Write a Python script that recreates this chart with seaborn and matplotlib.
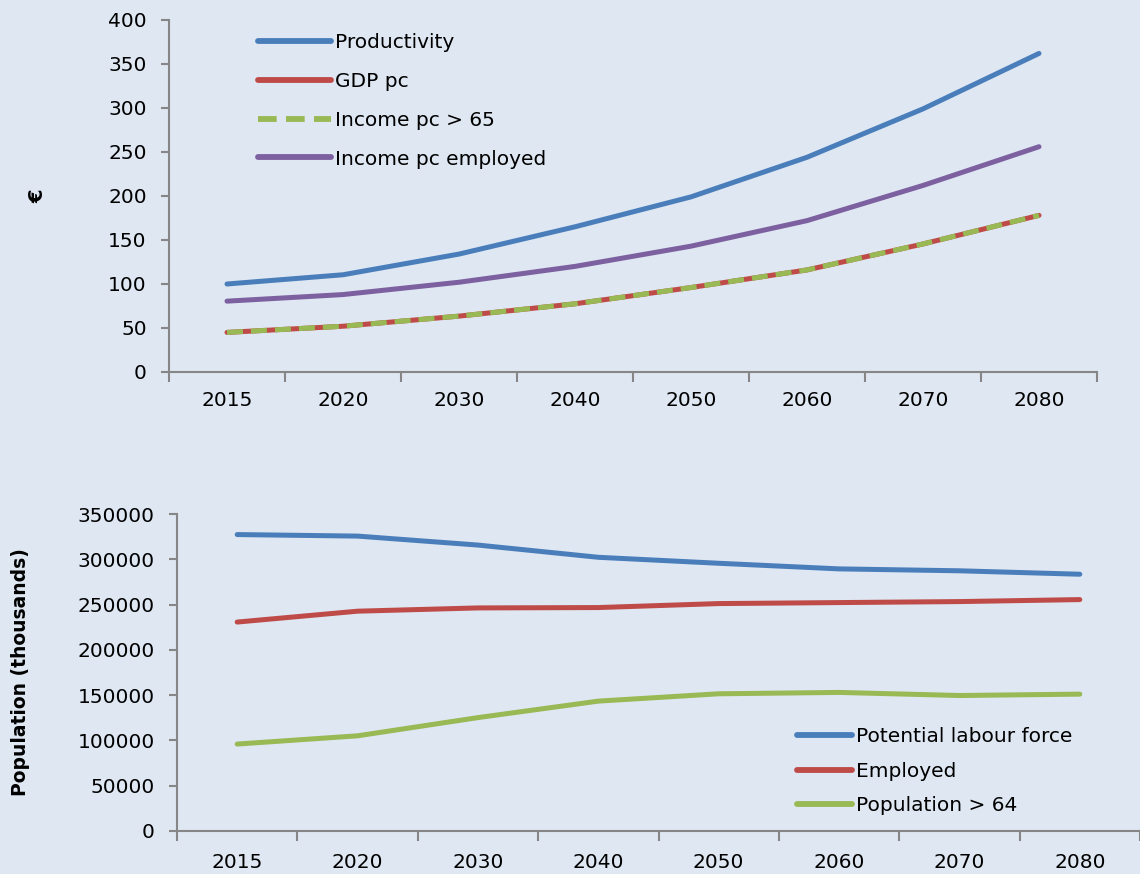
import matplotlib
matplotlib.use('Agg')
import matplotlib.pyplot as plt
import seaborn as sns
import pandas as pd
from matplotlib.ticker import FixedLocator

years = ['2015', '2020', '2030', '2040', '2050', '2060', '2070', '2080']

# Top panel (EUR)
productivity = [100, 110.5, 134, 165, 199, 244, 299, 362]
gdp_pc = [45, 52, 63.5, 77.5, 96, 116, 145.5, 178]
income_pc_65 = [45, 52, 63.5, 77.5, 96, 116, 145.5, 178]
income_pc_employed = [80.5, 88, 102, 120, 143, 172, 212, 256]

# Bottom panel (thousands)
labour_force = [327300, 325600, 315700, 302200, 295600, 289400, 287300, 283500]
employed = [230700, 242700, 246300, 246700, 251100, 252200, 253300, 255500]
population_64 = [96000, 105100, 125200, 143400, 151500, 153000, 149600, 151100]

BG = '#DEE7F2'
AXC = '#868686'
BLUE = '#4A7EBB'
RED = '#BE4B48'
GREEN = '#98B954'
PURPLE = '#7D60A0'

sns.set_theme(style='white', rc={
    'axes.facecolor': BG,
    'figure.facecolor': BG,
    'axes.edgecolor': AXC,
    'axes.linewidth': 1.5,
    'text.color': 'black',
    'axes.labelcolor': 'black',
    'xtick.color': 'black',
    'ytick.color': 'black',
})
plt.rcParams['font.family'] = ['DejaVu Sans']
plt.rcParams['lines.solid_capstyle'] = 'round'

fig = plt.figure(figsize=(11.4, 8.74), dpi=100, facecolor=BG)
W, H = 1140, 874
ax1 = fig.add_axes([169 / W, 1 - 372 / H, (1097 - 169) / W, (372 - 20) / H])
ax2 = fig.add_axes([177 / W, 1 - 831 / H, (1140 - 177) / W, (831 - 514) / H])

top = pd.DataFrame({'year': years, 'Productivity': productivity, 'GDP pc': gdp_pc,
                    'Income pc > 65': income_pc_65, 'Income pc employed': income_pc_employed})
bot = pd.DataFrame({'year': years, 'Potential labour force': labour_force,
                    'Employed': employed, 'Population > 64': population_64})

lw = 3.6
sns.lineplot(data=top, x='year', y='Productivity', color=BLUE, lw=lw, label='Productivity', ax=ax1)
sns.lineplot(data=top, x='year', y='GDP pc', color=RED, lw=lw, label='GDP pc', ax=ax1)
sns.lineplot(data=top, x='year', y='Income pc > 65', color=GREEN, lw=lw, label='Income pc > 65',
             ax=ax1, dashes=False)
ax1.lines[-1].set_dashes((3.2, 1.6))
ax1.lines[-1].set_dash_capstyle('butt')
sns.lineplot(data=top, x='year', y='Income pc employed', color=PURPLE, lw=lw, label='Income pc employed', ax=ax1)

sns.lineplot(data=bot, x='year', y='Potential labour force', color=BLUE, lw=lw, label='Potential labour force', ax=ax2)
sns.lineplot(data=bot, x='year', y='Employed', color=RED, lw=lw, label='Employed', ax=ax2)
sns.lineplot(data=bot, x='year', y='Population > 64', color=GREEN, lw=lw, label='Population > 64', ax=ax2)

FS = 14.5
for ax, ymax, step, xpad in [(ax1, 400, 50, 14), (ax2, 350000, 50000, 16)]:
    ax.set_xlim(-0.5, len(years) - 0.5)
    ax.set_ylim(0, ymax)
    ax.set_yticks(list(range(0, ymax + 1, step)))
    ax.set_xticks(range(len(years)))
    ax.set_xticklabels(years)
    ax.xaxis.set_minor_locator(FixedLocator([i - 0.5 for i in range(len(years) + 1)]))
    for s in ['top', 'right']:
        ax.spines[s].set_visible(False)
    ax.tick_params(axis='x', which='major', length=0, pad=xpad, labelsize=FS, labelcolor='black')
    ax.tick_params(axis='x', which='minor', length=7, width=1.5, color=AXC, direction='out', bottom=True)
    ax.tick_params(axis='y', which='major', length=6, width=1.5, color=AXC, direction='out', left=True,
                   labelsize=FS, labelcolor='black', pad=10)
    ax.set_xlabel('')
    ax.grid(False)

ax1.set_ylabel('€', fontsize=14, fontweight='bold', labelpad=44)
ax2.set_ylabel('Population (thousands)', fontsize=13.5, fontweight='bold', labelpad=34)

leg1 = ax1.legend(loc='upper left', bbox_to_anchor=(0.0875, 0.985), frameon=False, fontsize=FS,
                  handlelength=3.6, handletextpad=0.2, labelspacing=0.98, borderaxespad=0)
leg2 = ax2.legend(loc='lower right', bbox_to_anchor=(0.938, 0.026), frameon=False, fontsize=FS,
                  handlelength=2.7, handletextpad=0.2, labelspacing=0.75, borderaxespad=0)
for h in leg1.get_lines() + leg2.get_lines():
    h.set_linewidth(4.2)
for t in leg1.get_texts() + leg2.get_texts():
    t.set_color('black')

fig.savefig('out.png', dpi=100, facecolor=BG)
